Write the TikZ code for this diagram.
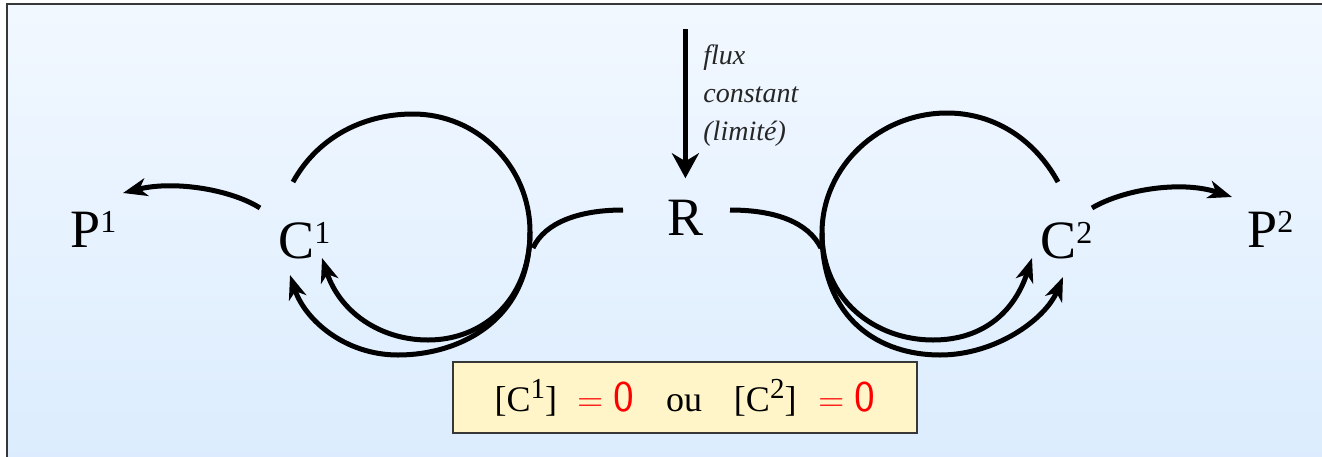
\documentclass[tikz,border=0pt]{standalone}
\usepackage{fontspec}
\setmainfont{Liberation Serif}
\usetikzlibrary{arrows.meta}
\definecolor{bgtop}{RGB}{242,248,255}
\definecolor{bgbot}{RGB}{219,236,254}
\definecolor{boxfill}{RGB}{255,245,200}
\definecolor{framecol}{RGB}{55,55,55}
\definecolor{zred}{RGB}{255,0,0}
\newcommand{\supr}[3]{\raisebox{#2}{\fontsize{#1}{#1}\selectfont #3}}
\newcommand{\eqzero}{{\color{zred}\sffamily =\hspace{5pt}{\fontsize{22}{22}\selectfont 0}}}
\begin{document}
\begin{tikzpicture}[x=0.5pt,y=-0.5pt,
  lbl/.style={inner sep=0pt, anchor=base west, font=\fontsize{27}{30}\selectfont},
  curve/.style={line width=2.5pt, line cap=butt},
  arr/.style={curve, -{Stealth[length=12pt,width=9pt,inset=3.5pt]}},
  flux/.style={line width=2.3pt, -{Stealth[length=12.5pt,width=13.5pt,inset=4pt]}},
  condbox/.style={draw=framecol, fill=boxfill, line width=1pt, minimum width=232pt,
    minimum height=35.5pt, inner sep=0pt, font=\fontsize{18}{20}\selectfont}
]
\useasboundingbox (0,0) rectangle (1322,456);
\clip (0,0) rectangle (1322,456);
\fill[white] (0,0) rectangle (1322,456);
\shade[top color=bgtop,bottom color=bgbot,draw=framecol,line width=1pt] (7,4) rectangle (1340,470);

% labels
\node[lbl] (P1) at (70,247) {P\supr{16}{7.2pt}{1}};
\node[lbl] (C1) at (278,258) {C\supr{16}{7.2pt}{1}};
\node[lbl] (R) at (667,235) {R};
\node[lbl] (C2) at (1040,258) {C\supr{16}{7.2pt}{2}};
\node[lbl] (P2) at (1247,247) {P\supr{16}{7.2pt}{2}};

% flux arrow
\coordinate (fluxtop) at ([yshift=85pt]R.north);
\coordinate (fluxtip) at ([yshift=10.5pt]R.north);
\draw[flux] (fluxtop) -- (fluxtip);
\node[anchor=north west, inner sep=0pt, align=left, text=black!85,
  font=\itshape\fontsize{14}{19}\selectfont] (fluxlbl) at (703,44) {flux\\constant\\(limité)};

% left cycle
\coordinate (L0) at (293,182);
\coordinate (Ltop) at (413,114);
\coordinate (Lr) at (530,232);
\coordinate (Lin) at (322,258);
\coordinate (Lout) at (290,275);
\coordinate (Rl) at (623,210);
\coordinate (Rj) at (533,248);
\draw[curve] (L0) .. controls (316,140) and (360,114) .. (Ltop)
  .. controls (477,114) and (530,166) .. (Lr);
\draw[arr] (Lr) .. controls (530,300) and (483,340) .. (428,340)
  .. controls (380,340) and (340,312) .. (Lin);
\draw[arr] (Lr) .. controls (530,320) and (460,355) .. (398,355)
  .. controls (345,355) and (305,320) .. (Lout);
\draw[curve] (Rl) .. controls (580,210) and (545,222) .. (Rj);

% right cycle
\coordinate (K0) at (1058,182);
\coordinate (Ktop) at (947,113);
\coordinate (Kl) at (822,233);
\coordinate (Kin) at (1032,258);
\coordinate (Kout) at (1063,277);
\coordinate (Rr) at (730,210);
\coordinate (Kj) at (821,248);
\draw[curve] (K0) .. controls (1035,140) and (995,113) .. (Ktop)
  .. controls (880,113) and (822,166) .. (Kl);
\draw[arr] (Kl) .. controls (822,300) and (875,340) .. (933,340)
  .. controls (985,340) and (1015,310) .. (Kin);
\draw[arr] (Kl) .. controls (822,320) and (880,355) .. (940,355)
  .. controls (995,355) and (1045,320) .. (Kout);
\draw[curve] (Rr) .. controls (775,210) and (808,222) .. (Kj);

% product arrows
\coordinate (P1s) at (260,208);
\coordinate (P1t) at (123,193);
\coordinate (P2s) at (1092,208);
\coordinate (P2t) at (1232,197);
\draw[arr] (P1s) .. controls (232,190) and (175,180) .. (P1t);
\draw[arr] (P2s) .. controls (1122,190) and (1180,180) .. (P2t);

% condition box
\node[condbox] (cond) at (685,397.5) {[C\supr{14.5}{6.5pt}{1}]\hspace{10pt}\eqzero\hspace{16pt}ou\hspace{16pt}[C\supr{14.5}{6.5pt}{2}]\hspace{11pt}\eqzero};
\end{tikzpicture}
\end{document}
